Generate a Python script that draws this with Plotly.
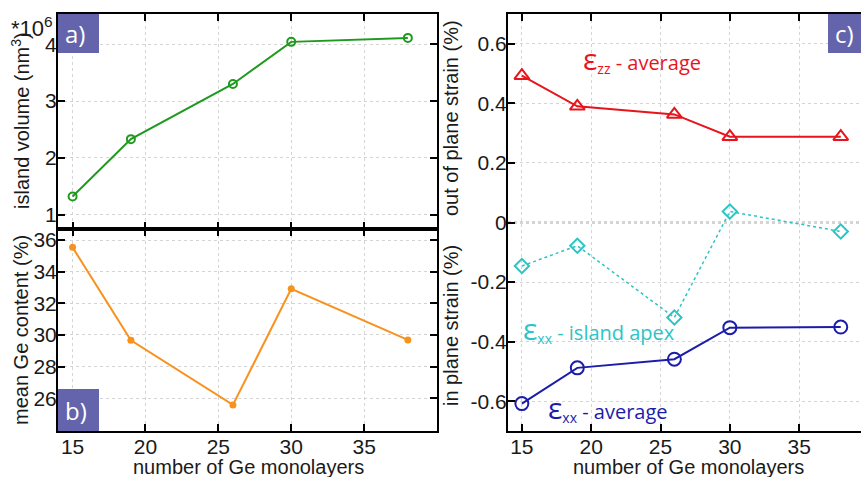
import plotly.graph_objects as go

# ---------------- data ----------------
monolayers = [15, 19, 26, 30, 38]
island_volume = [1.32, 2.33, 3.30, 4.04, 4.11]          # *10^6 nm^3
ge_content = [35.54, 29.66, 25.58, 32.92, 29.69]        # %
ezz_average = [0.493, 0.390, 0.363, 0.288, 0.288]       # %
exx_apex = [-0.146, -0.078, -0.319, 0.037, -0.030]      # %
exx_average = [-0.608, -0.488, -0.459, -0.353, -0.351]  # %

x_ticks = [15, 20, 25, 30, 35]
vol_ticks = [1, 2, 3, 4]
ge_ticks = [26, 28, 30, 32, 34, 36]
strain_ticks = [-0.6, -0.4, -0.2, 0, 0.2, 0.4, 0.6]
strain_ticktext = ["-0.6", "-0.4", "-0.2", "0", "0.2", "0.4", "0.6"]

# ---------------- layout helpers ----------------
W, H = 861, 477
def fx(px):
    return px / W
def fy(py):
    return 1 - py / H

FONT = "Liberation Sans, Arial, sans-serif"
GREEN = "#1f9a1f"
ORANGE = "#f7921e"
RED = "#e8141c"
CYAN = "#2cc4c4"
BLUE = "#1c1caa"
BOX = "#6464ac"

fig = go.Figure()

fig.add_trace(go.Scatter(x=monolayers, y=island_volume, mode="lines+markers",
                         line=dict(color=GREEN, width=2),
                         marker=dict(symbol="circle-open", size=8, color=GREEN, line=dict(width=2)),
                         xaxis="x", yaxis="y", showlegend=False))
fig.add_trace(go.Scatter(x=monolayers, y=ge_content, mode="lines+markers",
                         line=dict(color=ORANGE, width=2),
                         marker=dict(symbol="circle", size=7, color=ORANGE),
                         xaxis="x2", yaxis="y2", showlegend=False))
fig.add_trace(go.Scatter(x=monolayers, y=exx_apex, mode="lines+markers",
                         line=dict(color=CYAN, width=1.5, dash="dot"),
                         marker=dict(symbol="diamond-open", size=11, color=CYAN, line=dict(width=2)),
                         xaxis="x3", yaxis="y3", showlegend=False))
fig.add_trace(go.Scatter(x=monolayers, y=ezz_average, mode="lines+markers",
                         line=dict(color=RED, width=2),
                         marker=dict(symbol="triangle-up-open", size=13, color=RED, line=dict(width=2)),
                         xaxis="x3", yaxis="y3", showlegend=False))
fig.add_trace(go.Scatter(x=monolayers, y=exx_average, mode="lines+markers",
                         line=dict(color=BLUE, width=2),
                         marker=dict(symbol="circle-open", size=13, color=BLUE, line=dict(width=2)),
                         xaxis="x3", yaxis="y3", showlegend=False))

axis_common = dict(showline=True, linecolor="black", linewidth=2, ticks="inside",
                   ticklen=7, tickwidth=2, tickcolor="black",
                   showgrid=True, gridcolor="#d4d4d4", griddash="dot", gridwidth=1,
                   zeroline=False, tickfont=dict(family=FONT, size=21, color="#1a1a1a"))
ystand = dict(ticklabelstandoff=-5)
xstand = dict(ticklabelstandoff=-4)

left_dom = [fx(58), fx(437)]
right_dom = [fx(508), 1.0]

fig.update_layout(
    width=W, height=H, margin=dict(l=0, r=0, t=0, b=0),
    paper_bgcolor="white", plot_bgcolor="white",
    xaxis=dict(domain=left_dom, anchor="y", range=[14, 40], tickvals=x_ticks,
               showticklabels=False, mirror="ticks", **axis_common),
    yaxis=dict(domain=[fy(229), fy(14)], anchor="x", range=[0.75, 4.53], tickvals=vol_ticks,
               mirror="ticks", **ystand, **axis_common),
    xaxis2=dict(domain=left_dom, anchor="y2", range=[14, 40], tickvals=x_ticks,
                mirror="ticks", **xstand, **axis_common),
    yaxis2=dict(domain=[fy(431), fy(229)], anchor="x2", range=[23.93, 36.7], tickvals=ge_ticks,
                mirror="ticks", **ystand, **axis_common),
    xaxis3=dict(domain=right_dom, anchor="y3", range=[14, 39.46], tickvals=x_ticks,
                mirror="ticks", **xstand, **axis_common),
    yaxis3=dict(domain=[fy(431), fy(14)], anchor="x3", range=[-0.70, 0.70],
                tickvals=strain_ticks, ticktext=strain_ticktext, **ystand, **axis_common),
)

# zero line in panel c
fig.add_shape(type="line", xref="x3 domain", yref="y3", x0=0, x1=1, y0=0, y1=0,
              line=dict(color="#aaaaaa", width=2, dash="dot"), layer="below")

# panel label boxes
for (x0, x1, y0, y1, lab) in [(58, 99, 14, 53, "a)"), (58, 99, 389, 431, "b)"), (828, 870, 14, 53, "c)")]:
    fig.add_shape(type="rect", xref="paper", yref="paper", x0=fx(x0), x1=fx(min(x1, W)),
                  y0=fy(y1), y1=fy(y0), fillcolor=BOX, line=dict(width=0), layer="above")
    fig.add_annotation(xref="paper", yref="paper", x=fx(x0 + 5), y=fy((y0 + y1) / 2),
                       xanchor="left", yanchor="middle", text=lab, showarrow=False,
                       font=dict(family="Open Sans, sans-serif", size=24, color="white"))

title_font = dict(family=FONT, size=20, color="#1a1a1a")
annots = [
    dict(x=fx(248), y=fy(467), text="number of Ge monolayers", textangle=0),
    dict(x=fx(688), y=fy(467), text="number of Ge monolayers", textangle=0),
    dict(x=fx(21), y=fy(121), text="island volume (nm<sup>3</sup>)", textangle=-90),
    dict(x=fx(21), y=fy(330), text="mean Ge content (%)", textangle=-90),
    dict(x=fx(451), y=fy(118), text="out of plane strain (%)", textangle=-90),
    dict(x=fx(451), y=fy(326), text="in plane strain (%)", textangle=-90),
]
for a in annots:
    fig.add_annotation(xref="paper", yref="paper", xanchor="center", yanchor="middle",
                       showarrow=False, font=title_font, **a)

fig.add_annotation(xref="paper", yref="paper", x=fx(9), y=fy(27), xanchor="left", yanchor="middle",
                   text="*10<sup>6</sup>", showarrow=False, font=dict(family=FONT, size=22, color="#1a1a1a"))

def eps_label(sub, rest):
    return ("<span style='font-size:30px'>ε</span><sub>" + sub + "</sub>"
            "<span style='font-size:20px'> - " + rest + "</span>")

fig.add_annotation(xref="paper", yref="paper", x=fx(581), y=fy(58), xanchor="left", yanchor="middle",
                   text=eps_label("zz", "average"), showarrow=False,
                   font=dict(family="Open Sans, sans-serif", size=20, color=RED))
fig.add_annotation(xref="paper", yref="paper", x=fx(521), y=fy(328), xanchor="left", yanchor="middle",
                   text=eps_label("xx", "island apex"), showarrow=False,
                   font=dict(family="Open Sans, sans-serif", size=20, color=CYAN))
fig.add_annotation(xref="paper", yref="paper", x=fx(546), y=fy(407), xanchor="left", yanchor="middle",
                   text=eps_label("xx", "average"), showarrow=False,
                   font=dict(family="Open Sans, sans-serif", size=20, color=BLUE))

fig.write_html("out.html", config={"displayModeBar": False},
               post_script="document.body.style.margin='0';document.body.style.overflow='hidden';")
